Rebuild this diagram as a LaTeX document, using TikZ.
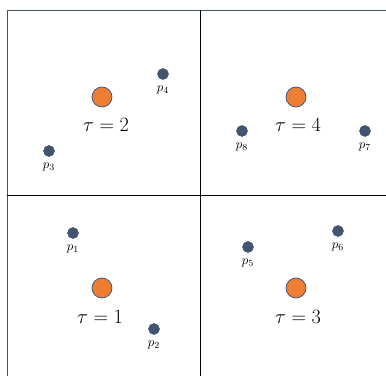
\documentclass[tikz,border=0pt]{standalone}
\usepackage{amsmath}
\usepackage{tikz}
\usetikzlibrary{positioning}
\definecolor{ctrorange}{HTML}{ED7D31}
\definecolor{ctredge}{HTML}{2F528F}
\definecolor{ptfill}{HTML}{44546A}
\definecolor{frameblue}{HTML}{44546A}

\begin{document}
\begin{tikzpicture}[
    x=0.03cm, y=-0.03cm,
    center/.style={
        circle,
        draw=ctredge,
        line width=0.6pt,
        fill=ctrorange,
        inner sep=0pt,
        minimum size=0.6cm
    },
    pt/.style={
        circle,
        draw=ctredge,
        line width=0.4pt,
        fill=ptfill,
        inner sep=0pt,
        minimum size=0.33cm
    },
    tau/.style={font=\fontsize{16.5}{19}\selectfont, inner sep=0pt},
    plabel/.style={font=\fontsize{11}{13}\selectfont, inner sep=0pt},
    grid/.style={line width=0.75pt, black},
    edge/.style={line width=0.7pt, frameblue}
]
\useasboundingbox (0,0) rectangle (386,376);

% frame and dividers
\coordinate (tl) at (7,10);
\coordinate (tr) at (386,10);
\coordinate (bl) at (7,376);
\coordinate (midtop) at (200,10);
\coordinate (midbot) at (200,376);
\coordinate (midleft) at (7,195);
\coordinate (midright) at (386,195);
\draw[edge] (bl) -- (tl) -- (tr);
\draw[grid] (midtop) -- (midbot);
\draw[grid] (midleft) -- (midright);

% top left
\node[center] (c2) at (102,97) {};
\node[tau] (t2) at (106,125) {$\tau = 2$};
\node[pt] (p4) at (163,74) {};
\node[plabel, below=5pt of p4] (l4) {$p_4$};
\node[pt] (p3) at (49,151) {};
\node[plabel, below=5pt of p3] (l3) {$p_3$};

% top right
\node[center] (c4) at (296,97) {};
\node[tau] (t4) at (298,125) {$\tau = 4$};
\node[pt] (p8) at (242,131) {};
\node[plabel, below=5pt of p8] (l8) {$p_8$};
\node[pt] (p7) at (365,131) {};
\node[plabel, below=5pt of p7] (l7) {$p_7$};

% bottom left
\node[center] (c1) at (102,288) {};
\node[tau] (t1) at (100,317) {$\tau = 1$};
\node[pt] (p1) at (73,233) {};
\node[plabel, below=5pt of p1] (l1) {$p_1$};
\node[pt] (p2) at (154,329) {};
\node[plabel, below=5pt of p2] (l2) {$p_2$};

% bottom right
\node[center] (c3) at (296,288) {};
\node[tau] (t3) at (298,317) {$\tau = 3$};
\node[pt] (p5) at (248,247) {};
\node[plabel, below=5pt of p5] (l5) {$p_5$};
\node[pt] (p6) at (338,231) {};
\node[plabel, below=5pt of p6] (l6) {$p_6$};

\end{tikzpicture}
\end{document}
